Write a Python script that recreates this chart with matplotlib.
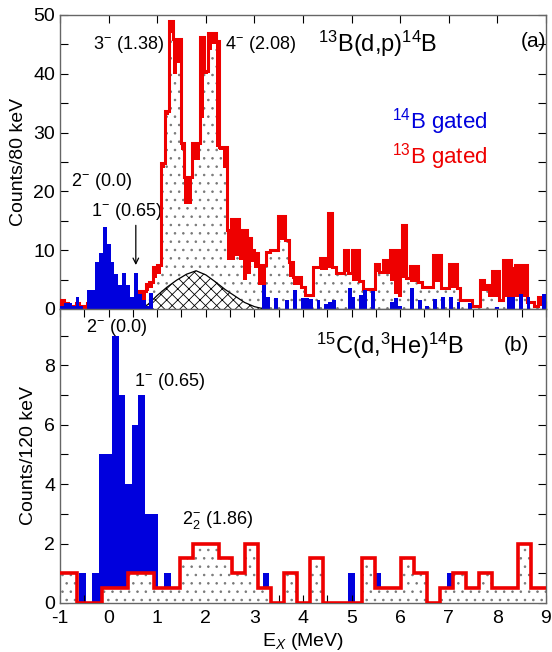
import numpy as np
import matplotlib
matplotlib.use('Agg')
import matplotlib.pyplot as plt
from matplotlib.ticker import MultipleLocator

plt.rcParams['font.family'] = ['Liberation Sans', 'DejaVu Sans']
plt.rcParams['mathtext.fontset'] = 'custom'
plt.rcParams['mathtext.rm'] = 'Liberation Sans'
plt.rcParams['mathtext.it'] = 'Liberation Sans:italic'
plt.rcParams['mathtext.bf'] = 'Liberation Sans:bold'
plt.rcParams['hatch.linewidth'] = 0.6
plt.rcParams['axes.unicode_minus'] = False

# ---- panel (a): 13B(d,p)14B, 80 keV bins from -1 MeV ----
a_start, a_width = -1.0, 0.08
# 13B gated, total (red)
a_red = [1.5, 1.0, 0.5, 0.5, 1.0, 0.5, 0.5, 1.0, 0.5, 0.5,
         1.0, 0.5, 0.5, 0.5, 1.0, 0.5, 0.5, 1.0, 1.0, 1.5,
         3.0, 3.0, 4.3, 4.6, 7.2, 7.5, 24.8, 33.6, 48.9, 45.9,
         45.9, 28.2, 22.4, 22.4, 28.2, 28.2, 46.3, 40.4, 46.9, 46.9,
         45.5, 27.6, 27.6, 13.5, 15.3, 15.3, 13.5, 13.5, 12.0, 10.0,
         9.5, 7.5, 7.5, 9.7, 10.0, 10.0, 15.8, 15.8, 11.7, 8.0,
         5.5, 5.5, 3.8, 2.4, 2.4, 7.2, 7.2, 8.6, 8.6, 16.3,
         7.2, 6.1, 6.1, 10.1, 6.1, 10.1, 10.1, 4.8, 3.4, 3.4,
         3.4, 7.7, 6.3, 8.3, 8.3, 10.1, 10.1, 10.1, 14.3, 5.2,
         7.3, 7.3, 4.6, 3.8, 3.8, 3.8, 9.2, 9.2, 3.5, 3.5,
         7.6, 7.6, 3.5, 1.5, 1.5, 1.5, 0.5, 0.5, 4.9, 4.1,
         4.1, 6.5, 6.5, 1.5, 8.3, 8.3, 6.9, 7.5, 7.5, 7.5,
         1.2, 1.2, 0.5, 2.1, 2.1]
# dotted part
a_dot = [0, 0, 0, 0, 0, 0, 0, 0, 0, 0,
         0, 0, 0, 0, 0, 0, 0, 0, 0, 0,
         0.5, 1.5, 3.0, 3.5, 5.2, 6.0, 24.0, 33.0, 47.0, 40.0,
         41.8, 27.0, 17.9, 17.9, 25.3, 25.3, 32.4, 40.0, 44.0, 45.0,
         27.6, 27.0, 24.0, 8.4, 8.4, 9.0, 8.4, 5.0, 6.0, 8.0,
         7.0, 4.0, 4.0, 9.7, 10.0, 10.0, 11.7, 11.7, 11.7, 5.5,
         4.0, 4.0, 3.8, 2.4, 2.4, 7.2, 7.2, 6.6, 6.6, 6.9,
         7.2, 6.1, 6.1, 6.3, 6.1, 4.8, 4.8, 4.8, 3.4, 3.4,
         3.4, 6.3, 6.3, 6.0, 6.0, 4.8, 2.5, 2.0, 5.2, 5.2,
         4.6, 4.6, 4.6, 3.8, 3.8, 3.8, 4.6, 4.6, 3.5, 3.5,
         3.5, 3.5, 3.5, 1.5, 1.5, 1.5, 0.5, 0.5, 3.0, 3.0,
         2.0, 2.0, 2.0, 1.5, 2.0, 2.0, 2.0, 2.0, 2.0, 2.0,
         1.2, 1.2, 0.5, 0.5, 0.5]
# 14B gated (blue)
a_blue = [0.5, 1.0, 1.0, 0.5, 2.0, 0.5, 0.0, 3.2, 3.2, 8.0,
          9.5, 14.0, 11.0, 8.0, 6.0, 4.0, 6.1, 4.0, 2.0, 6.2,
          2.5, 1.5, 0.5, 2.8, 0, 0, 0, 0, 0, 0,
          0, 0, 0, 0, 0, 0, 0, 0, 0, 0,
          0, 0, 0, 0, 0, 0, 0, 0, 0, 0,
          0, 0, 4.0, 2.0, 0, 1.9, 0, 0, 1.5, 0,
          3.2, 0, 1.9, 1.9, 1.7, 0, 1.5, 0, 0.9, 1.2,
          1.5, 0, 0, 0, 3.6, 2.0, 0, 2.4, 3.2, 0,
          3.0, 0, 0, 0, 0, 1.2, 1.9, 0.5, 0, 0,
          3.5, 0, 1.5, 0, 0.5, 0, 1.7, 0, 2.1, 0,
          2.1, 0, 1.2, 0, 0, 1.0, 0, 0, 0, 0,
          0, 0, 0.3, 0, 0, 2.1, 2.1, 0, 2.5, 0,
          2.1, 0, 0, 0, 2.5]
# hatched background curve
bg_e = [0.6, 0.8, 1.0, 1.2, 1.4, 1.6, 1.8, 2.0, 2.2, 2.4, 2.6, 2.8, 3.0, 3.2]
bg_y = [0.0, 0.7, 2.3, 3.7, 4.9, 5.9, 6.5, 5.8, 4.6, 3.3, 2.2, 1.1, 0.4, 0.0]

# ---- panel (b): 15C(d,3He)14B ----
b_blue_start, b_blue_width = -1.01, 0.135
b_blue = [0, 0, 0, 1, 0, 1, 5, 5, 9, 7,
          4, 6, 7, 3, 3, 0, 1, 0, 0, 0,
          0, 0, 0, 0, 0, 0, 0, 0, 0, 0,
          0, 1, 0, 0, 0, 0, 0, 0, 0, 0,
          0, 0, 0, 0, 1, 0, 0, 0, 1, 0,
          0, 0, 0, 0, 0, 0, 0, 0, 0, 1,
          0, 0, 0, 0, 0, 0, 0, 0, 0, 0,
          0, 0, 0, 0, 0]
b_red_start, b_red_width = -1.194, 0.267
b_red = [1, 1, 0, 0, 0.5, 0.5, 1, 1, 0.5, 0.5,
         1.5, 2, 2, 1.5, 1, 2, 0.5, 0, 1, 0,
         1.5, 0, 0, 0, 1.5, 0.5, 0.5, 1.5, 1.0, 0,
         0.5, 1, 0.5, 1, 0.5, 0.5, 2, 0.5, 0.5]

RED = '#ee0000'
BLUE = '#0000dd'
DOTC = '#777777'


def edges(start, width, n):
    return start + width * np.arange(n + 1)


def style_axis(ax):
    ax.set_xlim(-1, 9)
    ax.xaxis.set_major_locator(MultipleLocator(1))
    ax.tick_params(which='both', direction='in', top=True, right=True,
                   length=6, width=0.8, labelsize=14)
    ax.tick_params(axis='x', pad=5)
    for s in ax.spines.values():
        s.set_color('#666666')
        s.set_linewidth(1.0)


fig = plt.figure(figsize=(5.52, 6.52), dpi=100)
ax1 = fig.add_axes([0.1087, 0.5261, 0.8804, 0.4509])
ax2 = fig.add_axes([0.1087, 0.0752, 0.8804, 0.4509])

# panel (a)
ea = edges(a_start, a_width, len(a_red))
ax1.stairs(a_red, ea, fill=True, color=RED, zorder=1)
ax1.stairs(a_dot, ea, fill=True, facecolor='white', edgecolor=DOTC,
           hatch='..', linewidth=0, zorder=2)
ax1.fill_between(bg_e, bg_y, facecolor='white', edgecolor='black',
                 hatch='xxx', linewidth=0, zorder=3)
ax1.plot(bg_e, bg_y, color='black', lw=0.9, zorder=3)
ax1.stairs(a_red, ea, color=RED, lw=2.2, zorder=4)
ax1.stairs(a_blue, ea, fill=True, color=BLUE, zorder=5)

style_axis(ax1)
ax1.set_ylim(0, 50)
ax1.yaxis.set_major_locator(MultipleLocator(10))
ax1.yaxis.set_minor_locator(MultipleLocator(5))
ax1.tick_params(labelbottom=False)
ax1.set_ylabel('Counts/80 keV', fontsize=14)
ax1.yaxis.set_label_coords(-0.068, 0.5)

ax1.text(0.40, 45.0, r'3$^{-}$ (1.38)', fontsize=13, ha='center', va='center')
ax1.text(3.12, 45.0, r'4$^{-}$ (2.08)', fontsize=13, ha='center', va='center')
ax1.text(5.54, 45.0, r'$^{13}$B(d,p)$^{14}$B', fontsize=17, ha='center', va='center')
ax1.text(8.75, 45.5, '(a)', fontsize=15, ha='center', va='center')
ax1.text(6.81, 31.8, r'$^{14}$B gated', fontsize=16, color=BLUE, ha='center', va='center')
ax1.text(6.81, 25.9, r'$^{13}$B gated', fontsize=16, color=RED, ha='center', va='center')
ax1.text(-0.15, 21.6, r'2$^{-}$ (0.0)', fontsize=13, ha='center', va='center')
ax1.text(0.36, 16.5, r'1$^{-}$ (0.65)', fontsize=13, ha='center', va='center')
ax1.annotate('', xy=(0.56, 7.0), xytext=(0.56, 14.7),
             arrowprops=dict(arrowstyle='->', color='black', lw=0.9))

# panel (b)
eb = edges(b_blue_start, b_blue_width, len(b_blue))
er = edges(b_red_start, b_red_width, len(b_red))
ax2.stairs(b_blue, eb, fill=True, color=BLUE, zorder=1)
ax2.stairs(b_red, er, fill=True, facecolor='white', edgecolor=DOTC,
           hatch='..', linewidth=0, zorder=2)
ax2.stairs(b_red, er, color=RED, lw=2.6, zorder=3)

style_axis(ax2)
ax2.set_ylim(0, 9.9)
ax2.xaxis.set_minor_locator(MultipleLocator(0.5))
ax2.yaxis.set_major_locator(MultipleLocator(2))
ax2.yaxis.set_minor_locator(MultipleLocator(1))
ax2.set_ylabel('Counts/120 keV', fontsize=14)
ax2.yaxis.set_label_coords(-0.048, 0.5)
ax2.set_xlabel(r'E$_{X}$ (MeV)', fontsize=14, labelpad=3)

ax2.text(0.155, 9.28, r'2$^{-}$ (0.0)', fontsize=13, ha='center', va='center')
ax2.text(1.25, 7.47, r'1$^{-}$ (0.65)', fontsize=13, ha='center', va='center')
ax2.text(2.24, 2.78, r'2$^{-}_{2}$ (1.86)', fontsize=13, ha='center', va='center')
ax2.text(5.78, 8.67, r'$^{15}$C(d,$^{3}$He)$^{14}$B', fontsize=17, ha='center', va='center')
ax2.text(8.40, 8.67, '(b)', fontsize=15, ha='center', va='center')

fig.savefig('out.png', dpi=100)
